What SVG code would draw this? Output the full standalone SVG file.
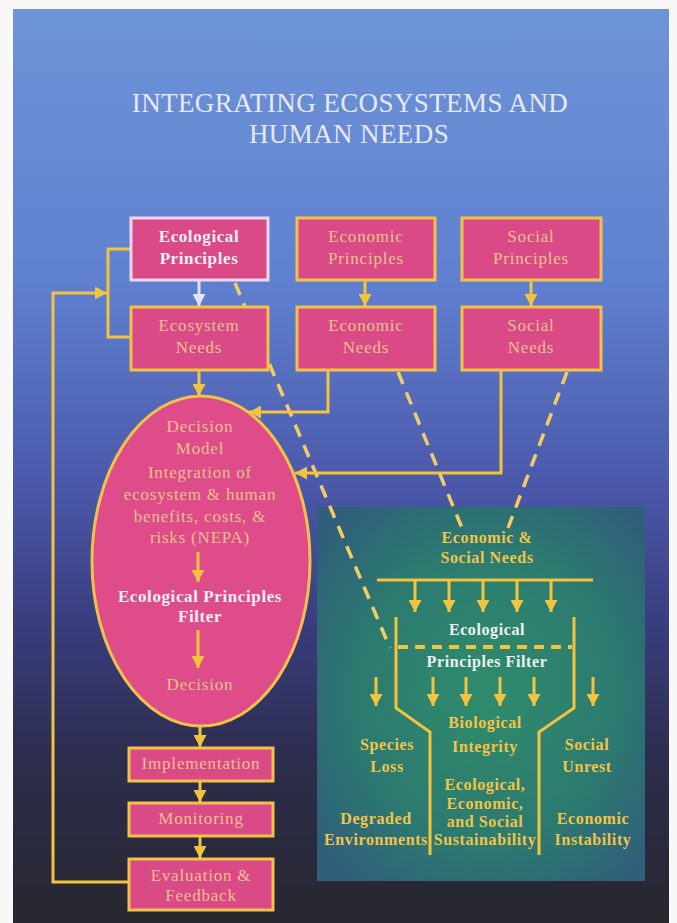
<svg xmlns="http://www.w3.org/2000/svg" width="677" height="923" viewBox="0 0 677 923">
<defs>
<linearGradient id="bg" x1="0" y1="0" x2="0" y2="1">
<stop offset="0" stop-color="#6e94d8"/>
<stop offset="0.3" stop-color="#5f80cf"/>
<stop offset="0.52" stop-color="#4b58aa"/>
<stop offset="0.68" stop-color="#393c7c"/>
<stop offset="0.82" stop-color="#2d2d4e"/>
<stop offset="1" stop-color="#27272f"/>
</linearGradient>
<radialGradient id="panel" cx="0.52" cy="0.5" r="0.65">
<stop offset="0" stop-color="#2f8c6c"/>
<stop offset="0.6" stop-color="#2c7a70"/>
<stop offset="1" stop-color="#2f5f7a"/>
</radialGradient>
<marker id="ah" markerUnits="userSpaceOnUse" markerWidth="13" markerHeight="13" refX="12" refY="6.5" orient="auto">
<path d="M0,0 L12,6.5 L0,13 z" fill="#f2c43e"/>
</marker>
<marker id="ahw" markerUnits="userSpaceOnUse" markerWidth="13" markerHeight="13" refX="12" refY="6.5" orient="auto">
<path d="M0,0 L12,6.5 L0,13 z" fill="#e4e2f2"/>
</marker>
<style>
.box{fill:#d94a86;stroke:#f2c248;stroke-width:3}
.boxw{fill:#d94a86;stroke:#ead6ee;stroke-width:3}
.t{font-family:"Liberation Serif","Times New Roman",serif;font-size:17px;letter-spacing:0.8px;fill:#f4c08e;text-anchor:middle}
.tw{font-family:"Liberation Serif","Times New Roman",serif;font-size:17px;letter-spacing:0.6px;fill:#f6eef4;text-anchor:middle;font-weight:bold}
.p{font-family:"Liberation Serif","Times New Roman",serif;font-size:16px;letter-spacing:0.6px;fill:#f2c447;text-anchor:middle;font-weight:bold}
.pw{font-family:"Liberation Serif","Times New Roman",serif;font-size:16px;letter-spacing:0.6px;fill:#eef2ee;text-anchor:middle;font-weight:bold}
.ttl{font-family:"Liberation Serif","Times New Roman",serif;font-size:27px;letter-spacing:0.4px;fill:#e6e8f2;text-anchor:middle}
.ln{fill:none;stroke:#f2c43e;stroke-width:3}
.lnw{fill:none;stroke:#e4e2f2;stroke-width:3}
.dash{fill:none;stroke:#f2cc66;stroke-width:3.5;stroke-dasharray:13 9}
</style>
</defs>

<rect x="0" y="0" width="677" height="923" fill="#f8f8f8"/>
<rect x="13" y="9" width="656" height="914" fill="url(#bg)"/>

<g id="title">
<text class="ttl" x="350" y="112">INTEGRATING ECOSYSTEMS AND</text>
<text class="ttl" x="349" y="143">HUMAN NEEDS</text>
</g>

<g id="filter-panel">
<rect x="317" y="507" width="328" height="374" fill="url(#panel)"/>
<text class="p" x="487" y="543">Economic &amp;</text>
<text class="p" x="487" y="563">Social Needs</text>
<line class="ln" x1="377" y1="580" x2="593" y2="580"/>
<g class="ln" marker-end="url(#ah)">
<line x1="415" y1="580" x2="415" y2="612"/>
<line x1="449" y1="580" x2="449" y2="612"/>
<line x1="483" y1="580" x2="483" y2="612"/>
<line x1="517" y1="580" x2="517" y2="612"/>
<line x1="551" y1="580" x2="551" y2="612"/>
</g>
<polyline class="ln" points="396,617 396,708 430,732 430,855"/>
<polyline class="ln" points="574,617 574,708 539,732 539,855"/>
<line x1="398" y1="647" x2="572" y2="647" stroke="#f2c43e" stroke-width="4" stroke-dasharray="10 7"/>
<text class="pw" x="487" y="635">Ecological</text>
<text class="pw" x="487" y="667">Principles Filter</text>
<g class="ln" marker-end="url(#ah)">
<line x1="376" y1="677" x2="376" y2="706"/>
<line x1="433" y1="677" x2="433" y2="706"/>
<line x1="466" y1="677" x2="466" y2="706"/>
<line x1="500" y1="677" x2="500" y2="706"/>
<line x1="534" y1="677" x2="534" y2="706"/>
<line x1="593" y1="677" x2="593" y2="706"/>
</g>
<text class="p" x="485" y="728">Biological</text>
<text class="p" x="485" y="752">Integrity</text>
<text class="p" x="387" y="750">Species</text>
<text class="p" x="387" y="772">Loss</text>
<text class="p" x="587" y="750">Social</text>
<text class="p" x="587" y="772">Unrest</text>
<text class="p" x="485" y="790">Ecological,</text>
<text class="p" x="485" y="809">Economic,</text>
<text class="p" x="485" y="827">and Social</text>
<text class="p" x="485" y="845">Sustainability</text>
<text class="p" x="376" y="824">Degraded</text>
<text class="p" x="376" y="845">Environments</text>
<text class="p" x="593" y="824">Economic</text>
<text class="p" x="593" y="845">Instability</text>
</g>

<g id="connectors">
<line class="dash" x1="235" y1="283" x2="390" y2="648"/>
<line class="dash" x1="398" y1="372" x2="462" y2="528"/>
<line class="dash" x1="567" y1="372" x2="508" y2="528"/>
<line class="lnw" x1="199" y1="281" x2="199" y2="306" marker-end="url(#ahw)"/>
<line class="ln" x1="365" y1="281" x2="365" y2="306" marker-end="url(#ah)"/>
<line class="ln" x1="531" y1="281" x2="531" y2="306" marker-end="url(#ah)"/>
<line class="ln" x1="199" y1="371" x2="199" y2="396" marker-end="url(#ah)"/>
<polyline class="ln" points="328,371 328,412 249,412" marker-end="url(#ah)"/>
<polyline class="ln" points="501,371 501,473 295,473" marker-end="url(#ah)"/>
<line class="ln" x1="200" y1="726" x2="200" y2="747" marker-end="url(#ah)"/>
<line class="ln" x1="200" y1="782" x2="200" y2="802" marker-end="url(#ah)"/>
<line class="ln" x1="200" y1="837" x2="200" y2="858" marker-end="url(#ah)"/>
<polyline class="ln" points="129,882 53,882 53,293 107,293" marker-end="url(#ah)"/>
<polyline class="ln" points="131,249 108,249 108,337 131,337"/>
</g>

<g id="ecological-principles">
<rect class="boxw" x="131" y="218" width="137" height="62"/>
<text class="tw" x="199" y="242">Ecological</text>
<text class="tw" x="199" y="264">Principles</text>
</g>
<g id="economic-principles">
<rect class="box" x="297" y="218" width="138" height="62"/>
<text class="t" x="366" y="242">Economic</text>
<text class="t" x="366" y="264">Principles</text>
</g>
<g id="social-principles">
<rect class="box" x="462" y="218" width="139" height="62"/>
<text class="t" x="531" y="242">Social</text>
<text class="t" x="531" y="264">Principles</text>
</g>
<g id="ecosystem-needs">
<rect class="box" x="131" y="307" width="137" height="63"/>
<text class="t" x="199" y="331">Ecosystem</text>
<text class="t" x="199" y="353">Needs</text>
</g>
<g id="economic-needs">
<rect class="box" x="297" y="307" width="138" height="63"/>
<text class="t" x="366" y="331">Economic</text>
<text class="t" x="366" y="353">Needs</text>
</g>
<g id="social-needs">
<rect class="box" x="462" y="307" width="139" height="63"/>
<text class="t" x="531" y="331">Social</text>
<text class="t" x="531" y="353">Needs</text>
</g>

<g id="decision-model">
<ellipse cx="201" cy="561" rx="109" ry="165" fill="#de4c8a" stroke="#f2c248" stroke-width="3"/>
<text class="t" x="200" y="432">Decision</text>
<text class="t" x="200" y="454">Model</text>
<text class="t" x="200" y="478">Integration of</text>
<text class="t" x="200" y="500">ecosystem &amp; human</text>
<text class="t" x="200" y="522">benefits, costs, &amp;</text>
<text class="t" x="200" y="543">risks (NEPA)</text>
<line class="ln" x1="198" y1="552" x2="198" y2="582" marker-end="url(#ah)"/>
<text class="tw" x="200" y="602">Ecological Principles</text>
<text class="tw" x="200" y="622">Filter</text>
<line class="ln" x1="198" y1="630" x2="198" y2="668" marker-end="url(#ah)"/>
<text class="t" x="200" y="690">Decision</text>
</g>

<g id="implementation">
<rect class="box" x="129" y="748" width="144" height="33"/>
<text class="t" x="201" y="769">Implementation</text>
</g>
<g id="monitoring">
<rect class="box" x="129" y="803" width="144" height="33"/>
<text class="t" x="201" y="824">Monitoring</text>
</g>
<g id="evaluation-feedback">
<rect class="box" x="129" y="859" width="144" height="51"/>
<text class="t" x="201" y="881">Evaluation &amp;</text>
<text class="t" x="201" y="901">Feedback</text>
</g>
</svg>
